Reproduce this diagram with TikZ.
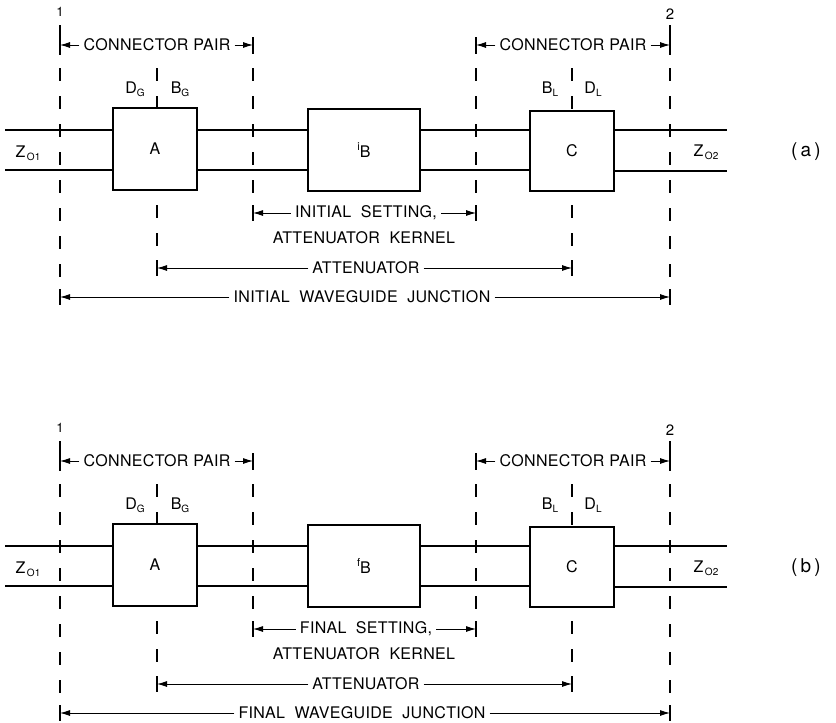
\documentclass[tikz,border=0pt]{standalone}
\usepackage{fontspec}
\setmainfont{TeX Gyre Heros}[LetterSpace=2]
\usetikzlibrary{arrows.meta}

\newcommand\lsub[1]{\raisebox{-3pt}{\fontsize{10}{10}\selectfont #1}}

\tikzset{
  box/.style={draw, line width=1.4pt, minimum width=84pt, minimum height=82pt,
    inner sep=0pt, font=\fontsize{16}{16}\selectfont},
  guide/.style={line width=1.3pt},
  plane/.style={line width=1.6pt, dash pattern=on 13pt off 15pt},
  tick/.style={line width=1.6pt},
  dim/.style={line width=0.9pt, -{Latex[length=10pt,width=6pt]}},
  lbl/.style={inner sep=4pt, font=\fontsize{16}{18}\selectfont},
}

\begin{document}
\begin{tikzpicture}[x=1pt, y=-1pt]
    \useasboundingbox (0,0) rectangle (836,723);

    \foreach \dy/\tg/\setg/\pfx in {0/a/INITIAL/i, 416/b/FINAL/f} {
    \begin{scope}[yshift=-\dy pt]

        % reference planes
        \coordinate (P1) at (60,0);
        \coordinate (PA) at (157,0);
        \coordinate (P2) at (253,0);
        \coordinate (P3) at (476,0);
        \coordinate (PC) at (572,0);
        \coordinate (P4) at (670,0);

        % the three sections
        \node[box] (A) at (155,149) {A};
        \node[box, minimum width=112pt] (B) at (364,150) {\raisebox{7pt}{\fontsize{11}{11}\selectfont\pfx}B};
        \node[box, minimum height=80pt] (C) at (572,151) {C};

        % waveguide
        \coordinate (w1) at (5,130);
        \coordinate (w2) at (5,170);
        \coordinate (e1) at (727,130);
        \coordinate (e2) at (727,171);
        \draw[guide] (w1) -- (w1 -| A.west) (w1 -| A.east) -- (w1 -| B.west)
            (w1 -| B.east) -- (w1 -| C.west) (w1 -| C.east) -- (e1);
        \draw[guide] (w2) -- (w2 -| A.west) (w2 -| A.east) -- (w2 -| B.west)
            (w2 -| B.east) -- (w2 -| C.west) (e2 -| C.east) -- (e2);

        % planes
        \foreach \p in {P1,P4} {
            \draw[tick] (\p |- 0,25) -- (\p |- 0,55);
            \draw[plane] (\p |- 0,68) -- (\p |- 0,280);
            \draw[tick] (\p |- 0,289) -- (\p |- 0,305);
        }
        \foreach \p in {P2,P3} {
            \draw[tick] (\p |- 0,37) -- (\p |- 0,54);
            \draw[plane] (\p |- 0,68) -- (\p |- 0,195);
            \draw[tick] (\p |- 0,205) -- (\p |- 0,221);
        }
        \draw[plane] (PA |- 0,68) -- (PA |- A.north);
        \draw[plane] (PC |- 0,68) -- (PC |- C.north);
        \foreach \p in {PA,PC} {
            \draw[plane] (\p |- 0,205) -- (\p |- 0,255);
            \draw[tick] (\p |- 0,260) -- (\p |- 0,276);
        }

        % labels
        \node[font=\fontsize{13}{13}\selectfont] (one) at (P1 |- 0,12) {1};
        \node[font=\fontsize{15}{15}\selectfont] (two) at (P4 |- 0,14) {2};
        \node[lbl] (dg) at (135,89) {D\lsub{G}};
        \node[lbl] (bg) at (180,89) {B\lsub{G}};
        \node[lbl] (bl) at (550,89) {B\lsub{L}};
        \node[lbl] (dl) at (593,89) {D\lsub{L}};
        \node[lbl] (z1) at (28,153) {Z\lsub{\,O1}};
        \node[lbl] (z2) at (706,152) {Z\lsub{\,O2}};
        \node[font=\fontsize{19}{19}\selectfont] (tag) at (806,152) {(\,\tg\,)};

        % dimension lines
        \node[lbl] (cp1) at (157,45) {CONNECTOR PAIR};
        \draw[dim] (cp1.west) -- (cp1.west -| P1);
        \draw[dim] (cp1.east) -- (cp1.east -| P2);
        \node[lbl] (cp2) at (573,45) {CONNECTOR PAIR};
        \draw[dim] (cp2.west) -- (cp2.west -| P3);
        \draw[dim] (cp2.east) -- (cp2.east -| P4);
        \node[lbl] (sett) at (366,213) {\setg\ \ SETTING,};
        \node[lbl] (kern) at (364,238) {ATTENUATOR\ \ KERNEL};
        \draw[dim] (sett.west) -- (sett.west -| P2);
        \draw[dim] (sett.east) -- (sett.east -| P3);
        \node[lbl] (att) at (366,268) {ATTENUATOR};
        \draw[dim] (att.west) -- (att.west -| PA);
        \draw[dim] (att.east) -- (att.east -| PC);
        \node[lbl] (jn) at (362,297) {\setg\ \ WAVEGUIDE\ \ JUNCTION};
        \draw[dim] (jn.west) -- (jn.west -| P1);
        \draw[dim] (jn.east) -- (jn.east -| P4);

    \end{scope}
    }

\end{tikzpicture}
\end{document}
